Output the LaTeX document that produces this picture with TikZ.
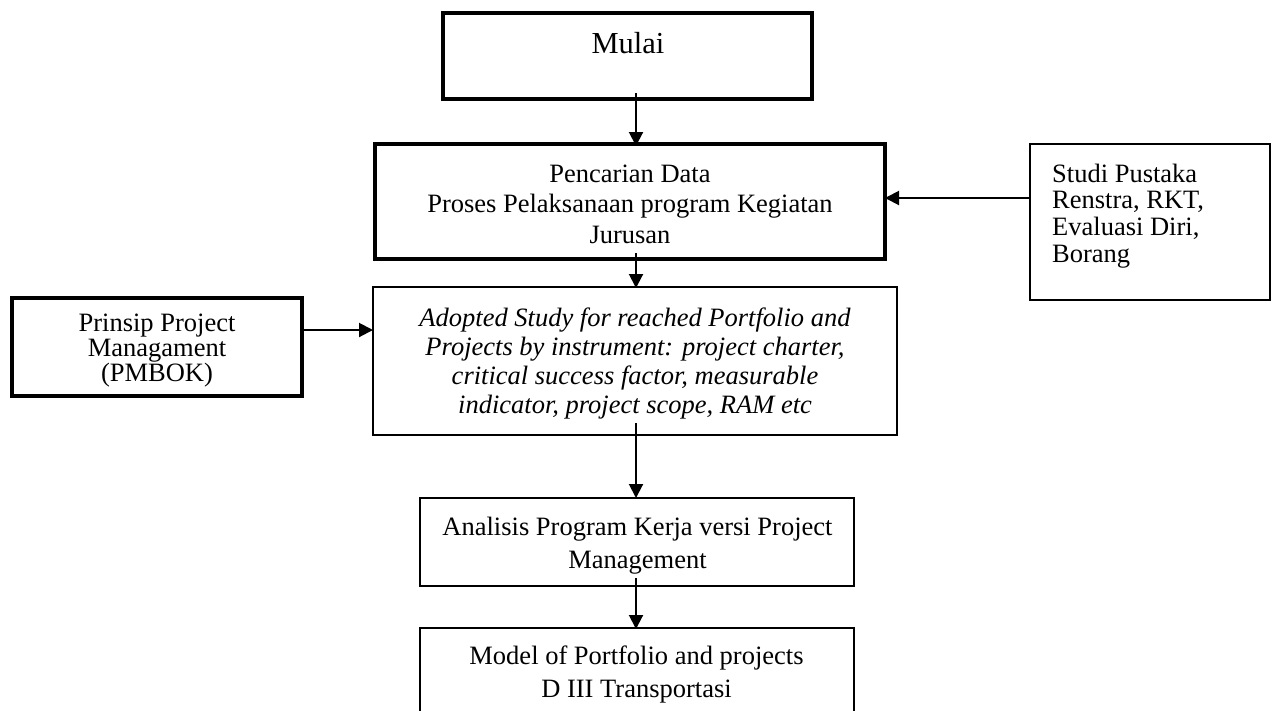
\documentclass[tikz,border=0pt]{standalone}
\usepackage{fontspec}
\setmainfont{Liberation Serif}
\usetikzlibrary{arrows.meta,calc}
\begin{document}
\begin{tikzpicture}[x=1pt,y=-1pt,
  frame/.style={draw, rectangle, inner sep=0pt, outer sep=0pt},
  heavy/.style={frame, line width=3.3pt},
  medium/.style={frame, line width=2.7pt},
  light/.style={frame, line width=1.6pt},
  txt/.style={inner sep=0pt, align=center, font=\fontsize{26.5}{30.5}\selectfont},
  arr/.style={line width=2pt, -{Triangle[length=14pt,width=14pt]}},
]
\useasboundingbox (0,0) rectangle (1276,710);
\clip (0,0) rectangle (1276,710);

\node[heavy, minimum width=369pt, minimum height=86pt] (mulai) at (627.5,56) {};
\node[txt, font=\fontsize{30.5}{35}\selectfont] (mulaiT) at (628,43) {Mulai};

\node[heavy, minimum width=510pt, minimum height=115pt] (pencarian) at (630,201.5) {};
\node[txt] (pencarianT) at (630,204) {Pencarian Data\\Proses Pelaksanaan program Kegiatan\\Jurusan};

\node[medium, minimum width=524pt, minimum height=148pt] (adopted) at (635,361) {};
\node[txt, font=\fontsize{26.5}{29}\selectfont\itshape] (adoptedT) at (635,363) {Adopted Study for reached Portfolio and\\Projects by instrument: project charter,\\critical success factor, measurable\\indicator, project scope, RAM etc};

\node[light, minimum width=240pt, minimum height=156pt] (studi) at (1150,222) {};
\node[txt, align=left, font=\fontsize{26.5}{26.7}\selectfont, anchor=west] (studiT) at (1052,216) {Studi Pustaka\\Renstra, RKT,\\Evaluasi Diri,\\Borang};

\node[heavy, minimum width=290pt, minimum height=98pt] (prinsip) at (157,347) {};
\node[txt, font=\fontsize{26.5}{25}\selectfont] (prinsipT) at (157,351) {Prinsip Project\\Managament\\(PMBOK)};

\node[light, minimum width=434pt, minimum height=88pt] (analisis) at (637,542) {};
\node[txt, font=\fontsize{26.5}{33}\selectfont] (analisisT) at (637.5,546) {Analisis Program Kerja versi Project\\Management};

\node[light, minimum width=434pt, minimum height=170pt] (model) at (637,713) {};
\node[txt, font=\fontsize{26.5}{33}\selectfont] (modelT) at (636.5,674.5) {Model of Portfolio and projects\\D III Transportasi};

\coordinate (col) at (636,0);
\draw[arr, shorten <=-6pt, shorten >=-2pt] (mulai.south -| col) -- (pencarian.north -| col);
\draw[arr, shorten <=-6pt, shorten >=-1pt] (pencarian.south -| col) -- (adopted.north -| col);
\draw[arr, shorten <=-12pt] (adopted.south -| col) -- (analisis.north -| col);
\draw[arr, shorten <=-8pt, shorten >=-1pt] (analisis.south -| col) -- (model.north -| col);

\coordinate (pe) at ([yshift=3.5pt]pencarian.east);
\draw[arr] (pe -| studi.west) -- (pe);
\coordinate (pp) at ([yshift=17pt]prinsip.east);
\draw[arr] (pp) -- (pp -| adopted.west);
\end{tikzpicture}
\end{document}
